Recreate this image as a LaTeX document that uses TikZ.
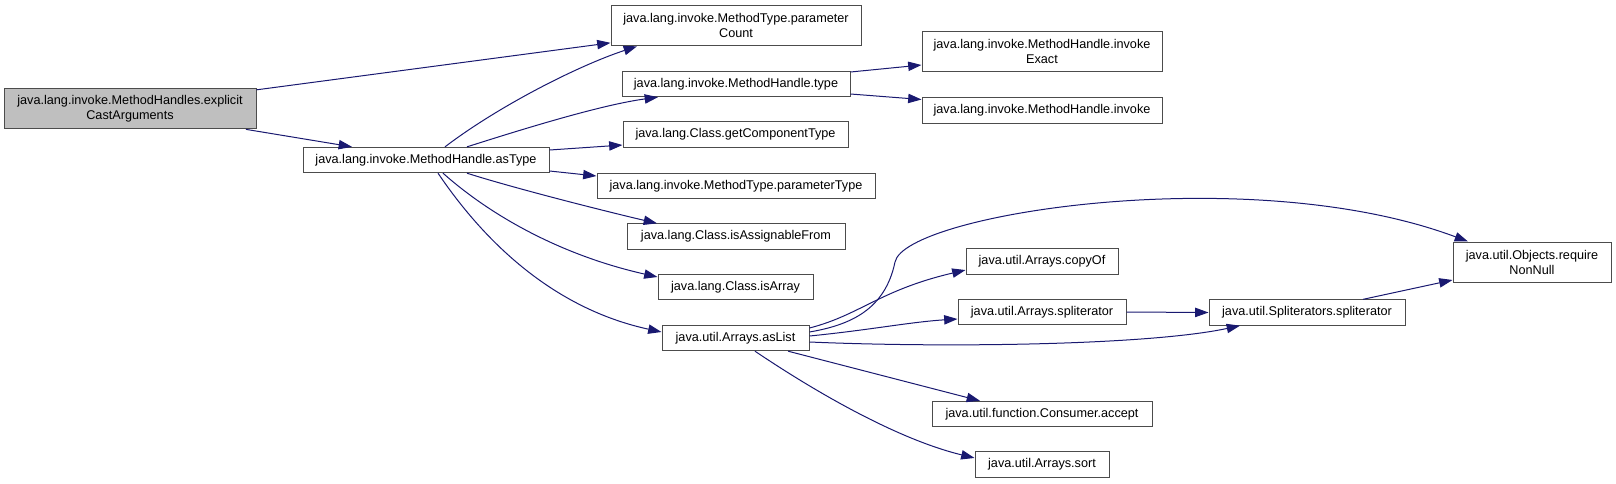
\documentclass[tikz,border=0pt]{standalone}
\usepackage{fontspec}
\setmainfont{Liberation Sans}
\usetikzlibrary{arrows.meta}
\definecolor{edgeblue}{HTML}{191970}

\begin{document}
\begin{tikzpicture}[
    x=0.75pt, y=0.75pt,
    fn/.style={draw=black!70, line width=0.75pt, fill=white, inner sep=0pt,
        align=center, font=\fontsize{9.5}{11.25}\selectfont, minimum height=19pt},
    fntwo/.style={fn, minimum height=30.5pt},
    call/.style={draw=edgeblue, line width=0.75pt,
        -{Triangle[length=10pt,width=7pt]}}
]
    \useasboundingbox (0,0) rectangle (1616,-483);

    % caller
    \node[fntwo, fill=black!25, minimum width=189pt] (explicit) at (130,-108.5)
        {java.lang.invoke.MethodHandles.explicit\\CastArguments};
    \node[fn, minimum width=184.5pt] (astype) at (426,-160)
        {java.lang.invoke.MethodHandle.asType};

    % middle column
    \node[fntwo, minimum width=187.5pt] (pcount) at (736,-25.5)
        {java.lang.invoke.MethodType.parameter\\Count};
    \node[fn, minimum width=171pt] (mhtype) at (736,-84)
        {java.lang.invoke.MethodHandle.type};
    \node[fn, minimum width=168.75pt] (getcomp) at (735.5,-134.5)
        {java.lang.Class.getComponentType};
    \node[fn, minimum width=208.5pt] (ptype) at (736,-186)
        {java.lang.invoke.MethodType.parameterType};
    \node[fn, minimum width=163.5pt] (isassign) at (736,-236.5)
        {java.lang.Class.isAssignableFrom};
    \node[fn, minimum width=116.25pt] (isarray) at (735.5,-287)
        {java.lang.Class.isArray};
    \node[fn, minimum width=110.25pt] (aslist) at (735.5,-338)
        {java.util.Arrays.asList};

    % right columns
    \node[fntwo, minimum width=180pt, minimum height=30pt] (invexact) at (1042,-51)
        {java.lang.invoke.MethodHandle.invoke\\Exact};
    \node[fn, minimum width=180pt] (invoke) at (1042,-110.5)
        {java.lang.invoke.MethodHandle.invoke};
    \node[fn, minimum width=114pt] (copyof) at (1042,-261.5)
        {java.util.Arrays.copyOf};
    \node[fn, minimum width=126pt] (arrsplit) at (1042,-312)
        {java.util.Arrays.spliterator};
    \node[fn, minimum width=165pt] (accept) at (1042,-414)
        {java.util.function.Consumer.accept};
    \node[fn, minimum width=100.5pt] (sort) at (1042,-464.5)
        {java.util.Arrays.sort};
    \node[fn, minimum width=147pt] (splsplit) at (1307,-312.5)
        {java.util.Spliterators.spliterator};
    \node[fntwo, minimum width=118.5pt, minimum height=30pt] (nonnull) at (1532,-262)
        {java.util.Objects.require\\NonNull};

    % calls from explicitCastArguments
    \draw[call]
        ([yshift=14pt]explicit.east) --
        ([yshift=-13pt]pcount.west);
    \draw[call]
        ([xshift=-8pt]explicit.south east) --
        ([xshift=-55.5pt]astype.north);

    % calls from asType
    \draw[call]
        ([xshift=14.25pt]astype.north) .. controls (500,-105) and (580,-65) ..
        ([xshift=-74.25pt]pcount.south);
    \draw[call]
        ([xshift=30.75pt]astype.north) .. controls (520,-130) and (600,-105) ..
        ([xshift=-58.5pt]mhtype.south);
    \draw[call]
        ([yshift=7.5pt]astype.east) --
        ([yshift=-7.9pt]getcomp.west);
    \draw[call]
        ([yshift=-8.25pt]astype.east) --
        ([yshift=7.5pt]ptype.west);
    \draw[call]
        ([xshift=30.75pt]astype.south) .. controls (510,-187) and (600,-210) ..
        ([xshift=-59.25pt]isassign.north);
    \draw[call]
        ([xshift=12.75pt]astype.south) .. controls (490,-215) and (560,-255) ..
        ([yshift=7.5pt]isarray.west);
    \draw[call]
        ([xshift=9pt]astype.south) .. controls (490,-250) and (560,-310) ..
        ([yshift=4.5pt]aslist.west);

    % calls from type
    \draw[call]
        ([yshift=9pt]mhtype.east) --
        ([yshift=-10.5pt]invexact.west);
    \draw[call]
        ([yshift=-7.5pt]mhtype.east) --
        ([yshift=8.25pt]invoke.west);

    % calls from asList
    \draw[call]
        ([yshift=4.5pt]aslist.east) .. controls (850,-325) and (885,-310) ..
        (895,-262) .. controls (905,-214) and (1250,-160) ..
        ([xshift=-48pt]nonnull.north);
    \draw[call]
        ([yshift=7.5pt]aslist.east) .. controls (860,-315) and (880,-290) ..
        ([yshift=-6.4pt]copyof.west);
    \draw[call]
        ([yshift=1.5pt]aslist.east) .. controls (870,-330) and (910,-322) ..
        ([yshift=-5.25pt]arrsplit.west);
    \draw[call]
        ([yshift=-3pt]aslist.east) .. controls (950,-348) and (1150,-345) ..
        ([xshift=-50.25pt]splsplit.south);
    \draw[call]
        ([xshift=39.4pt]aslist.south) --
        ([xshift=-46.5pt]accept.north);
    \draw[call]
        ([xshift=14.6pt]aslist.south) .. controls (820,-395) and (900,-440) ..
        ([yshift=4.9pt]sort.west);

    % calls from the spliterators
    \draw[call]
        (arrsplit.east) --
        (splsplit.west);
    \draw[call]
        ([xshift=42pt]splsplit.north) --
        ([yshift=-13.5pt]nonnull.west);

\end{tikzpicture}
\end{document}
